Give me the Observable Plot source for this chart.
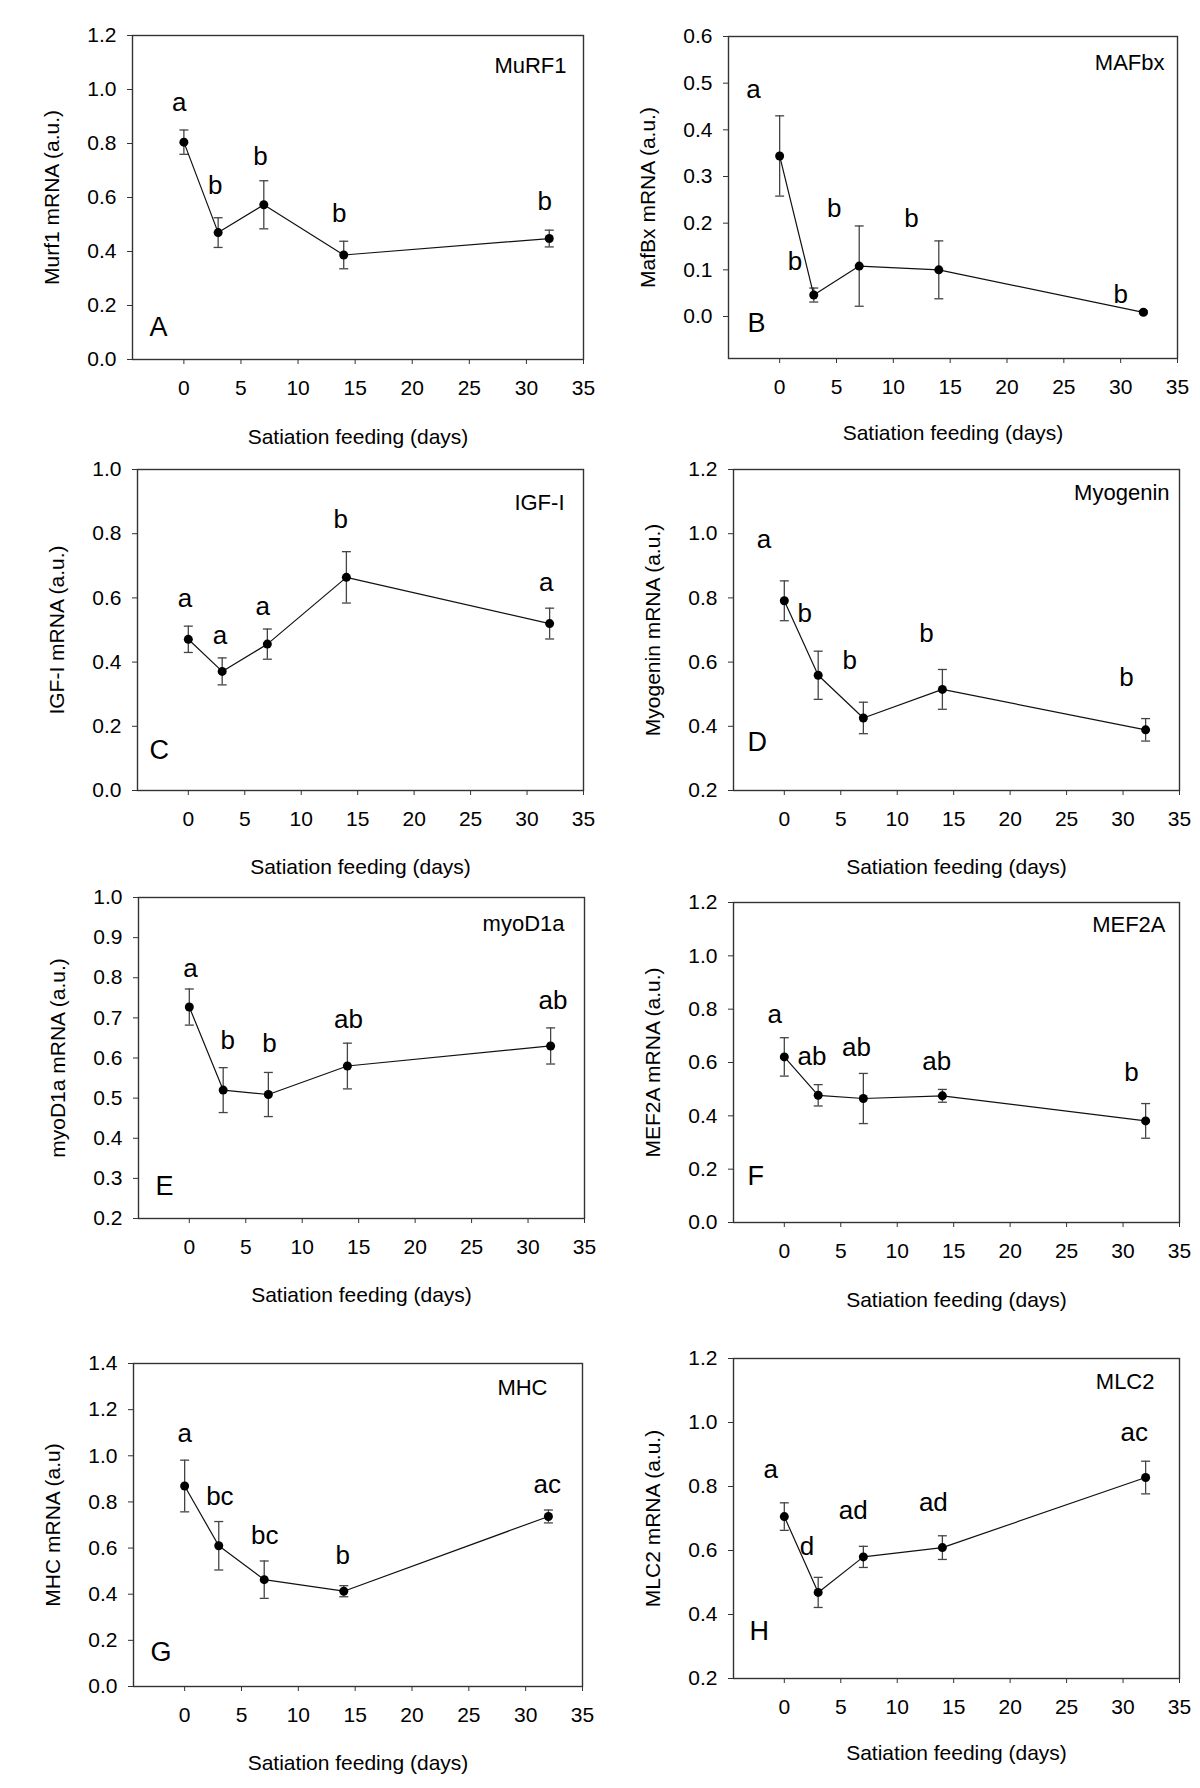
<!DOCTYPE html>
<html><head><meta charset="utf-8">
<script src="https://cdn.jsdelivr.net/npm/d3@7"></script>
<script src="https://cdn.jsdelivr.net/npm/@observablehq/plot@0.6"></script>
<style>
html,body{margin:0;padding:0;background:#fff;}
#wrap{position:relative;width:1200px;height:1788px;background:#fff;overflow:hidden;}
#wrap svg{position:absolute;}
</style></head><body><div id="wrap"></div>
<script>
// ---------- data ----------
const days = [0, 3, 7, 14, 32];
const xTicks = [0, 5, 10, 15, 20, 25, 30, 35];
const xTitle = "Satiation feeding (days)";
const genes = ["MuRF1", "MAFbx", "IGF-I", "Myogenin", "myoD1a", "MEF2A", "MHC", "MLC2"];
const panelLetters = ["A", "B", "C", "D", "E", "F", "G", "H"];
const yTitles = ["Murf1 mRNA (a.u.)", "MafBx mRNA (a.u.)", "IGF-I mRNA (a.u.)", "Myogenin mRNA (a.u.)",
                 "myoD1a mRNA (a.u.)", "MEF2A mRNA (a.u.)", "MHC mRNA (a.u)", "MLC2 mRNA (a.u.)"];
const yDomains = [[0, 1.2], [-0.09, 0.6], [0, 1.0], [0.2, 1.2], [0.2, 1.0], [0, 1.2], [0, 1.4], [0.2, 1.2]];
const yTicks = [
  [0, 0.2, 0.4, 0.6, 0.8, 1.0, 1.2],
  [0, 0.1, 0.2, 0.3, 0.4, 0.5, 0.6],
  [0, 0.2, 0.4, 0.6, 0.8, 1.0],
  [0.2, 0.4, 0.6, 0.8, 1.0, 1.2],
  [0.2, 0.3, 0.4, 0.5, 0.6, 0.7, 0.8, 0.9, 1.0],
  [0, 0.2, 0.4, 0.6, 0.8, 1.0, 1.2],
  [0, 0.2, 0.4, 0.6, 0.8, 1.0, 1.2, 1.4],
  [0.2, 0.4, 0.6, 0.8, 1.0, 1.2]
];

const murf1Mean = [0.805, 0.470, 0.573, 0.387, 0.448];
const murf1Se   = [0.045, 0.055, 0.089, 0.051, 0.031];
const murf1Sig  = ["a", "b", "b", "b", "b"];
const murf1SigX = [-0.4, 2.75, 6.7, 13.6, 31.6];
const murf1SigY = [0.953, 0.645, 0.750, 0.540, 0.583];

const mafbxMean = [0.344, 0.046, 0.108, 0.100, 0.009];
const mafbxSe   = [0.086, 0.015, 0.086, 0.062, 0.003];
const mafbxSig  = ["a", "b", "b", "b", "b"];
const mafbxSigX = [-2.3, 1.35, 4.8, 11.6, 30.0];
const mafbxSigY = [0.485, 0.118, 0.232, 0.210, 0.046];

const igfMean = [0.471, 0.371, 0.456, 0.664, 0.520];
const igfSe   = [0.041, 0.042, 0.047, 0.080, 0.048];
const igfSig  = ["a", "a", "a", "b", "a"];
const igfSigX = [-0.3, 2.8, 6.6, 13.5, 31.7];
const igfSigY = [0.598, 0.483, 0.572, 0.845, 0.647];

const myogMean = [0.791, 0.559, 0.426, 0.515, 0.389];
const myogSe   = [0.062, 0.075, 0.049, 0.062, 0.035];
const myogSig  = ["a", "b", "b", "b", "b"];
const myogSigX = [-1.8, 1.8, 5.8, 12.6, 30.3];
const myogSigY = [0.980, 0.751, 0.605, 0.689, 0.551];

const myodMean = [0.727, 0.520, 0.509, 0.580, 0.630];
const myodSe   = [0.045, 0.056, 0.055, 0.057, 0.045];
const myodSig  = ["a", "b", "b", "ab", "ab"];
const myodSigX = [0.1, 3.4, 7.1, 14.1, 32.2];
const myodSigY = [0.823, 0.643, 0.636, 0.696, 0.742];

const mef2aMean = [0.621, 0.477, 0.465, 0.475, 0.381];
const mef2aSe   = [0.072, 0.040, 0.094, 0.024, 0.065];
const mef2aSig  = ["a", "ab", "ab", "ab", "b"];
const mef2aSigX = [-0.85, 2.45, 6.4, 13.5, 30.75];
const mef2aSigY = [0.779, 0.623, 0.654, 0.604, 0.561];

const mhcMean = [0.869, 0.610, 0.463, 0.413, 0.737];
const mhcSe   = [0.112, 0.105, 0.081, 0.024, 0.028];
const mhcSig  = ["a", "bc", "bc", "b", "ac"];
const mhcSigX = [0.0, 3.1, 7.05, 13.9, 31.9];
const mhcSigY = [1.096, 0.821, 0.654, 0.568, 0.876];

const mlc2Mean = [0.706, 0.469, 0.580, 0.609, 0.828];
const mlc2Se   = [0.043, 0.047, 0.033, 0.037, 0.051];
const mlc2Sig  = ["a", "d", "ad", "ad", "ac"];
const mlc2SigX = [-1.2, 2.0, 6.1, 13.2, 31.0];
const mlc2SigY = [0.853, 0.611, 0.723, 0.749, 0.968];

const means = [murf1Mean, mafbxMean, igfMean, myogMean, myodMean, mef2aMean, mhcMean, mlc2Mean];
const ses   = [murf1Se, mafbxSe, igfSe, myogSe, myodSe, mef2aSe, mhcSe, mlc2Se];
const sigs  = [murf1Sig, mafbxSig, igfSig, myogSig, myodSig, mef2aSig, mhcSig, mlc2Sig];
const sigXs = [murf1SigX, mafbxSigX, igfSigX, myogSigX, myodSigX, mef2aSigX, mhcSigX, mlc2SigX];
const sigYs = [murf1SigY, mafbxSigY, igfSigY, myogSigY, myodSigY, mef2aSigY, mhcSigY, mlc2SigY];

// ---------- layout (pixels) ----------
const layout = [
  {left: 0,   top: 0,    w: 600, h: 440, mt: 35, mr: 17, mb: 81,  ml: 132, gene: [17, 30], letter: [17, 32], xt: 78},
  {left: 600, top: 0,    w: 600, h: 440, mt: 36, mr: 23, mb: 82,  ml: 128, gene: [13, 26], letter: [19, 35], xt: 75},
  {left: 0,   top: 440,  w: 600, h: 440, mt: 29, mr: 17, mb: 90,  ml: 137, gene: [19, 33], letter: [12, 40], xt: 77},
  {left: 600, top: 440,  w: 600, h: 440, mt: 29, mr: 21, mb: 90,  ml: 133, gene: [10, 23], letter: [14, 48], xt: 77},
  {left: 0,   top: 880,  w: 600, h: 440, mt: 17, mr: 16, mb: 102, ml: 138, gene: [20, 26], letter: [17, 32], xt: 77},
  {left: 600, top: 880,  w: 600, h: 440, mt: 22, mr: 21, mb: 98,  ml: 133, gene: [14, 22], letter: [14, 46], xt: 78},
  {left: 0,   top: 1320, w: 600, h: 468, mt: 43, mr: 18, mb: 102, ml: 133, gene: [35, 24], letter: [17, 34], xt: 77},
  {left: 600, top: 1320, w: 600, h: 468, mt: 38, mr: 21, mb: 110, ml: 133, gene: [25, 23], letter: [16, 47], xt: 75}
];

const FONT = "'Liberation Sans', Arial, Helvetica, sans-serif";
const capSymbol = {draw(ctx, size) { const r = Math.sqrt(size / Math.PI); ctx.moveTo(-r, 0); ctx.lineTo(r, 0); }};
const wrap = document.getElementById("wrap");

function panel(i) {
  const L = layout[i];
  const rows = days.map((d, j) => ({day: d, mean: means[i][j], se: ses[i][j]}));
  const sig = days.map((d, j) => ({x: sigXs[i][j], y: sigYs[i][j], t: sigs[i][j]}));
  const svg = Plot.plot({
    width: L.w, height: L.h,
    marginTop: L.mt, marginRight: L.mr, marginBottom: L.mb, marginLeft: L.ml,
    x: {domain: [-4.5, 35]},
    y: {domain: yDomains[i]},
    style: {fontFamily: FONT, fontSize: "21px", color: "#000", background: "transparent", overflow: "visible"},
    marks: [
      Plot.frame({stroke: "#333", strokeWidth: 1.4}),
      Plot.axisX({ticks: xTicks, tickSize: 5, tickPadding: 16, tickFormat: d => String(d), fontSize: 21, label: null, stroke: "#333"}),
      Plot.axisY({ticks: yTicks[i], tickSize: 5, tickPadding: 11, tickFormat: d3.format(".1f"), fontSize: 21, label: null, stroke: "#333"}),
      Plot.ruleX(rows, {x: "day", y1: d => d.mean - d.se, y2: d => d.mean + d.se, stroke: "#444", strokeWidth: 1.3}),
      Plot.dot(rows, {x: "day", y: d => d.mean + d.se, symbol: capSymbol, r: 4.5, stroke: "#444", strokeWidth: 1.3, fill: "none"}),
      Plot.dot(rows, {x: "day", y: d => d.mean - d.se, symbol: capSymbol, r: 4.5, stroke: "#444", strokeWidth: 1.3, fill: "none"}),
      Plot.line(rows, {x: "day", y: "mean", stroke: "#111", strokeWidth: 1.2}),
      Plot.dot(rows, {x: "day", y: "mean", r: 4.5, fill: "#000", stroke: "none"}),
      Plot.text(sig, {x: "x", y: "y", text: "t", fontSize: 26, textAnchor: "middle", lineAnchor: "middle", fill: "#000"}),
      Plot.text([genes[i]], {frameAnchor: "top-right", dx: -L.gene[0], dy: L.gene[1], textAnchor: "end", lineAnchor: "middle", fontSize: 22, fill: "#000"}),
      Plot.text([panelLetters[i]], {frameAnchor: "bottom-left", dx: L.letter[0], dy: -L.letter[1], textAnchor: "start", lineAnchor: "middle", fontSize: 27, fill: "#000"}),
      Plot.text([xTitle], {frameAnchor: "bottom", dy: L.xt, textAnchor: "middle", lineAnchor: "middle", fontSize: 21, fill: "#000"}),
      Plot.text([yTitles[i]], {frameAnchor: "left", dx: -80, rotate: -90, textAnchor: "middle", lineAnchor: "middle", fontSize: 21, fill: "#000"})
    ]
  });
  svg.style.left = L.left + "px";
  svg.style.top = L.top + "px";
  wrap.appendChild(svg);
}
for (let i = 0; i < 8; i++) panel(i);
</script>
</body></html>
